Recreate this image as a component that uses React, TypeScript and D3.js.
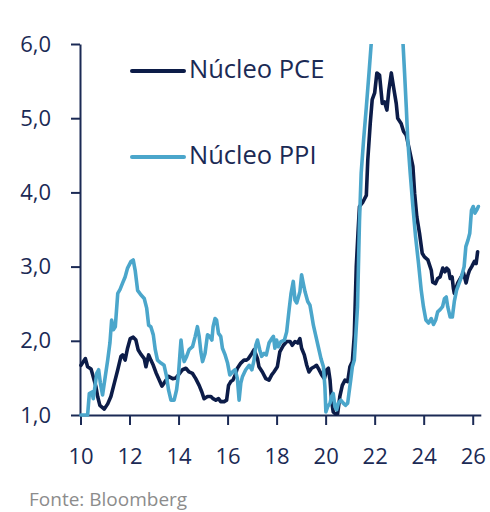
import * as React from 'react';
import * as d3 from 'd3';

// decimal years (10 = 2010) and yoy %
const pceYears = [
  10.02, 10.2, 10.29, 10.43, 10.5, 10.63, 10.7, 10.79, 10.97, 11.11, 11.24, 11.38, 11.52, 11.65, 11.72, 11.82,
  11.92, 12.03, 12.15, 12.26, 12.35, 12.46, 12.6, 12.67, 12.78, 12.87, 12.97, 13.08, 13.19, 13.32, 13.41, 13.59,
  13.76, 13.89, 14.02, 14.16, 14.3, 14.43, 14.57, 14.7, 14.84, 14.95, 15.04, 15.18, 15.32, 15.41, 15.52, 15.63,
  15.72, 15.86, 15.96, 16.04, 16.13, 16.22, 16.31, 16.4, 16.54, 16.67, 16.77, 16.85, 16.99, 17.08, 17.22, 17.28,
  17.42, 17.56, 17.69, 17.8, 17.89, 18.03, 18.13, 18.28, 18.41, 18.55, 18.64, 18.75, 18.86, 18.95, 19.02, 19.13,
  19.23, 19.32, 19.43, 19.54, 19.63, 19.73, 19.84, 19.95, 20.04, 20.11, 20.18, 20.24, 20.31, 20.41, 20.49, 20.58,
  20.68, 20.79, 20.9, 20.99, 21.09, 21.17, 21.25, 21.32, 21.38, 21.52, 21.66, 21.72, 21.82, 21.9, 22.0, 22.09,
  22.2, 22.31, 22.4, 22.5, 22.58, 22.68, 22.77, 22.88, 22.94, 23.08, 23.18, 23.29, 23.42, 23.56, 23.63, 23.72,
  23.83, 23.94, 24.03, 24.17, 24.31, 24.37, 24.48, 24.57, 24.67, 24.78, 24.87, 24.94, 25.02, 25.08, 25.16, 25.21,
  25.25, 25.39, 25.53, 25.62, 25.73, 25.8, 25.87, 25.96, 26.07, 26.14, 26.2,
];
const pceValues = [
  1.67, 1.76, 1.65, 1.62, 1.54, 1.38, 1.25, 1.13, 1.08, 1.15, 1.25, 1.43, 1.61, 1.79, 1.81, 1.74,
  1.9, 2.03, 2.05, 2.01, 1.88, 1.82, 1.76, 1.65, 1.81, 1.74, 1.67, 1.57, 1.49, 1.39, 1.43, 1.52,
  1.49, 1.5, 1.55, 1.61, 1.63, 1.58, 1.56, 1.49, 1.4, 1.31, 1.22, 1.25, 1.25, 1.22, 1.2, 1.22,
  1.18, 1.18, 1.2, 1.4, 1.45, 1.47, 1.54, 1.63, 1.7, 1.74, 1.74, 1.76, 1.83, 1.88, 1.76, 1.65,
  1.58, 1.49, 1.47, 1.54, 1.58, 1.65, 1.85, 1.94, 1.99, 1.99, 1.94, 1.99, 1.97, 2.03, 1.9, 1.81,
  1.67, 1.58, 1.63, 1.65, 1.67, 1.61, 1.54, 1.49, 1.61, 1.63, 1.47, 1.2, 1.04, 1.01, 1.02, 1.25,
  1.4, 1.47, 1.45, 1.65, 1.72, 2.08, 3.0, 3.45, 3.81, 3.87, 3.96, 4.44, 4.93, 5.25, 5.34, 5.61,
  5.58, 5.2, 5.22, 5.11, 5.38, 5.61, 5.42, 5.2, 5.0, 4.93, 4.82, 4.77, 4.57, 4.35, 3.99, 3.67,
  3.45, 3.18, 3.13, 3.09, 2.95, 2.79, 2.77, 2.84, 2.86, 2.98, 2.93, 2.98, 2.95, 2.84, 2.86, 2.71,
  2.64, 2.78, 2.86, 2.92, 2.78, 2.88, 2.95, 3.0, 3.07, 3.04, 3.2,
];

const ppiYears = [
  10.02, 10.29, 10.36, 10.47, 10.52, 10.59, 10.66, 10.74, 10.81, 10.9, 11.01, 11.11, 11.2, 11.27, 11.34, 11.42,
  11.52, 11.61, 11.72, 11.82, 11.92, 12.06, 12.15, 12.23, 12.33, 12.46, 12.6, 12.7, 12.78, 12.87, 12.97, 13.05,
  13.14, 13.28, 13.41, 13.51, 13.59, 13.69, 13.82, 13.92, 14.0, 14.07, 14.1, 14.16, 14.23, 14.33, 14.43, 14.57,
  14.68, 14.77, 14.84, 14.91, 14.98, 15.08, 15.18, 15.27, 15.36, 15.41, 15.49, 15.55, 15.63, 15.72, 15.79, 15.9,
  16.0, 16.09, 16.2, 16.31, 16.4, 16.47, 16.54, 16.61, 16.74, 16.88, 16.99, 17.08, 17.15, 17.22, 17.31, 17.39,
  17.49, 17.58, 17.69, 17.8, 17.87, 17.93, 18.0, 18.07, 18.18, 18.32, 18.41, 18.51, 18.59, 18.68, 18.75, 18.82,
  18.89, 18.95, 19.02, 19.09, 19.16, 19.27, 19.36, 19.43, 19.5, 19.59, 19.7, 19.81, 19.91, 19.97, 20.01, 20.08,
  20.18, 20.24, 20.31, 20.38, 20.45, 20.52, 20.62, 20.72, 20.81, 20.9, 20.95, 21.03, 21.09, 21.17, 21.22, 21.3,
  21.38, 21.45, 21.55, 21.66, 21.77, 21.87, 21.95, 22.05, 22.2, 22.35, 22.5, 22.65, 22.8, 22.95, 23.1, 23.15,
  23.22, 23.29, 23.35, 23.45, 23.56, 23.67, 23.79, 23.9, 23.99, 24.09, 24.2, 24.31, 24.4, 24.49, 24.57, 24.67,
  24.77, 24.85, 24.92, 24.98, 25.08, 25.17, 25.25, 25.34, 25.44, 25.54, 25.65, 25.72, 25.81, 25.88, 25.95, 26.02,
  26.09, 26.16, 26.23,
];
const ppiValues = [
  1.0, 1.0, 1.29, 1.31, 1.22, 1.38, 1.56, 1.61, 1.43, 1.27, 1.52, 1.74, 1.97, 2.28, 2.15, 2.19,
  2.64, 2.69, 2.78, 2.86, 2.98, 3.07, 3.09, 2.95, 2.68, 2.62, 2.57, 2.44, 2.21, 2.19, 2.08, 1.88,
  1.74, 1.7, 1.67, 1.52, 1.34, 1.2, 1.2, 1.34, 1.56, 1.88, 2.01, 1.83, 1.72, 1.79, 1.88, 1.92,
  2.06, 2.19, 2.06, 1.85, 1.72, 1.83, 2.08, 2.06, 2.01, 2.19, 2.3, 2.28, 2.1, 2.06, 1.9, 1.81,
  1.7, 1.54, 1.58, 1.61, 1.49, 1.2, 1.43, 1.52, 1.61, 1.67, 1.61, 1.74, 1.94, 2.01, 1.88, 1.79,
  1.83, 1.81, 1.97, 2.03, 2.06, 1.9, 2.01, 1.92, 1.99, 2.01, 2.12, 2.42, 2.64, 2.8, 2.55, 2.51,
  2.59, 2.66, 2.89, 2.77, 2.66, 2.53, 2.48, 2.35, 2.21, 2.08, 1.92, 1.76, 1.65, 1.38, 1.04, 1.11,
  1.16, 1.25, 1.29, 1.11, 1.07, 1.16, 1.2, 1.16, 1.13, 1.16, 1.29, 1.49, 1.65, 1.74, 2.01, 2.46,
  3.6, 4.26, 4.71, 5.15, 5.61, 6.05, 6.6, 7.5, 8.5, 9.2, 9.5, 9.3, 8.6, 7.6, 6.8, 6.05,
  5.61, 5.15, 4.71, 4.26, 3.81, 3.4, 3.04, 2.68, 2.46, 2.28, 2.24, 2.3, 2.22, 2.28, 2.39, 2.42,
  2.46, 2.57, 2.59, 2.46, 2.32, 2.32, 2.53, 2.68, 2.77, 2.86, 3.0, 3.27, 3.36, 3.45, 3.76, 3.81,
  3.72, 3.76, 3.81,
];

const xTicks = [10, 12, 14, 16, 18, 20, 22, 24, 26];
const yTicks = [1, 2, 3, 4, 5, 6];
const seriesNames = ['Núcleo PCE', 'Núcleo PPI'];
const seriesColors = ['#0c1c48', '#4ba6cb'];
const source = 'Fonte: Bloomberg';

const W = 490;
const H = 512;
const FONT = "'Open Sans', 'Noto Sans', sans-serif";
const AXIS = '#1b2a55';

export default function App() {
  const svgRef = React.useRef<SVGSVGElement>(null);

  React.useEffect(() => {
    if (!svgRef.current) return;
    const svg = d3.select(svgRef.current);
    svg.selectAll('*').remove();

    const x = d3.scaleLinear().domain([10, 26.33]).range([80.5, 480.8]);
    const y = d3.scaleLinear().domain([1, 6]).range([415, 44]);

    svg
      .append('defs')
      .append('clipPath')
      .attr('id', 'plot-area')
      .append('rect')
      .attr('x', 70)
      .attr('y', 44)
      .attr('width', 420)
      .attr('height', 380);

    const yAxis = d3
      .axisLeft(y)
      .tickValues(yTicks)
      .tickSizeInner(9)
      .tickSizeOuter(0)
      .tickPadding(20)
      .tickFormat((d) => d3.format('.1f')(d as number).replace('.', ','));
    const yg = svg.append('g').attr('transform', 'translate(80,0)').call(yAxis);

    const xAxis = d3
      .axisBottom(x)
      .tickValues(xTicks)
      .tickSizeInner(10)
      .tickSizeOuter(0)
      .tickPadding(23)
      .tickFormat((d) => String(d));
    const xg = svg.append('g').attr('transform', 'translate(0,415)').call(xAxis);

    [yg, xg].forEach((g) => {
      g.select('.domain').attr('stroke', AXIS).attr('stroke-width', 2);
      g.selectAll('.tick line').attr('stroke', AXIS).attr('stroke-width', 2);
      g.selectAll('.tick text')
        .attr('fill', AXIS)
        .style('font-family', FONT)
        .style('font-size', '22px');
    });

    const line = d3
      .line<[number, number]>()
      .x((d) => x(d[0]))
      .y((d) => y(d[1]));

    const series = [
      pceYears.map((t, i) => [t, pceValues[i]] as [number, number]),
      ppiYears.map((t, i) => [t, ppiValues[i]] as [number, number]),
    ];

    const plot = svg.append('g').attr('clip-path', 'url(#plot-area)');
    series.forEach((s, i) => {
      plot
        .append('path')
        .datum(s)
        .attr('d', line)
        .attr('fill', 'none')
        .attr('stroke', seriesColors[i])
        .attr('stroke-width', 3.6)
        .attr('stroke-linejoin', 'round')
        .attr('stroke-linecap', 'round');
    });

    // legend
    const legendY = [71, 157];
    seriesNames.forEach((name, i) => {
      const g = svg.append('g').attr('transform', `translate(0,${legendY[i]})`);
      g.append('line')
        .attr('x1', 132)
        .attr('x2', 184)
        .attr('stroke', seriesColors[i])
        .attr('stroke-width', 4)
        .attr('stroke-linecap', 'round');
      g.append('text')
        .attr('x', 189)
        .attr('y', 6.8)
        .attr('fill', AXIS)
        .style('font-family', FONT)
        .style('font-size', '25.5px')
        .text(name);
    });

    svg
      .append('text')
      .attr('x', 29)
      .attr('y', 506)
      .attr('fill', '#8c8c8c')
      .style('font-family', FONT)
      .style('font-size', '19px')
      .text(source);
  }, []);

  return (
    <svg
      ref={svgRef}
      width={W}
      height={H}
      style={{ position: 'absolute', left: 0, top: 0, background: '#fff' }}
    />
  );
}
